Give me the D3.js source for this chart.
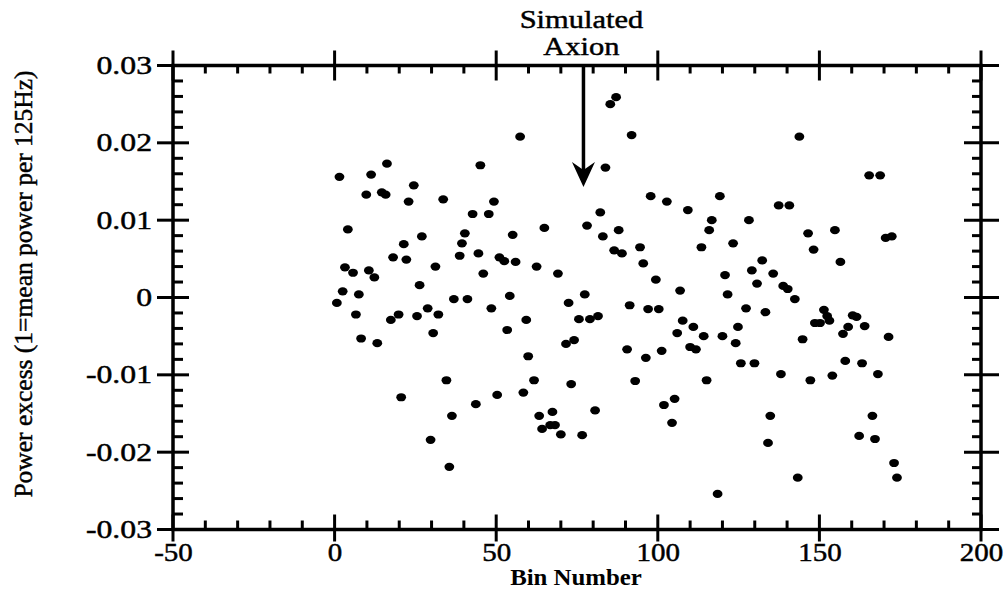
<!DOCTYPE html>
<html lang="en">
<head>
<meta charset="UTF-8">
<title>Power excess vs bin number</title>
<script src="https://cdn.jsdelivr.net/npm/d3@7"></script>
<style>
    body{ margin:0; background:#fff; }
    svg{ display:block; background:#fff; }
    .frame{ stroke:#000; stroke-width:3.5; fill:none; }
    .axis path{ display:none; }
    .axis line{ stroke:#000; stroke-width:3; }
    .dot{ fill:#000; }
</style>
</head>
<body>
<div id="root"></div>
<script>
// data: one point per bin
const binNumber = [
    0.7, 1.5, 2.5, 3.2, 4.1, 5.7, 6.6, 7.5, 8.2, 9.8,
    10.6, 11.3, 12.3, 13.2, 14.6, 15.8, 16.2, 17.4, 18.1, 19.8,
    20.6, 21.4, 22.2, 22.9, 24.5, 25.5, 26.3, 27.0, 28.8, 29.7,
    30.5, 31.2, 32.1, 33.6, 34.6, 35.5, 36.3, 36.9, 38.7, 39.4,
    40.3, 41.1, 42.7, 43.7, 44.5, 45.1, 46.0, 47.7, 48.5, 49.3,
    50.3, 51.0, 52.5, 53.4, 54.2, 55.1, 56.0, 57.4, 58.4, 59.3,
    59.9, 61.7, 62.5, 63.3, 64.2, 64.9, 66.7, 67.4, 68.2, 69.1,
    70.0, 71.6, 72.4, 73.2, 74.1, 75.6, 76.6, 77.4, 78.1, 79.0,
    80.6, 81.5, 82.2, 83.0, 83.8, 85.3, 86.5, 87.1, 87.9, 88.9,
    90.5, 91.3, 91.9, 93.0, 94.5, 95.5, 96.3, 97.0, 97.8, 99.4,
    100.3, 101.2, 101.9, 102.8, 104.4, 105.2, 106.0, 106.9, 107.7, 109.3,
    110.0, 111.0, 111.8, 113.5, 114.2, 115.1, 115.9, 116.7, 118.5, 119.2,
    120.0, 120.8, 121.6, 123.3, 124.1, 124.8, 125.7, 127.3, 128.2, 129.1,
    129.9, 130.7, 132.3, 133.3, 134.1, 134.8, 135.7, 137.4, 138.1, 138.8,
    140.2, 140.7, 142.4, 143.3, 143.8, 144.8, 146.5, 147.2, 148.2, 148.6,
    150.2, 151.4, 152.4, 153.1, 154.0, 154.8, 156.5, 157.3, 158.0, 158.9,
    160.3, 161.5, 162.3, 163.2, 164.0, 165.4, 166.4, 167.2, 168.1, 168.8,
    170.5, 171.4, 172.4, 173.1, 174.0
]
const powerExcess = [
    -0.0007, 0.0156, 0.0008, 0.0039, 0.0088, 0.0032, -0.0022, 0.0004, -0.0053, 0.0133,
    0.0035, 0.0159, 0.0026, -0.0059, 0.0136, 0.0133, 0.0173, -0.0029, 0.0052, -0.0022,
    -0.0129, 0.0069, 0.0049, 0.0124, 0.0145, -0.0024, 0.0016, 0.0079, -0.0014, -0.0184,
    -0.0046, 0.0040, -0.0022, 0.0127, -0.0107, -0.0219, -0.0153, -0.0002, 0.0054, 0.0070,
    0.0083, -0.0002, 0.0108, -0.0138, 0.0057, 0.0171, 0.0031, 0.0108, -0.0014, 0.0124,
    -0.0126, 0.0052, 0.0047, -0.0042, 0.0002, 0.0081, 0.0046, 0.0208, -0.0123, -0.0029,
    -0.0076, -0.0107, 0.0040, -0.0153, -0.0170, 0.0090, -0.0165, -0.0148, -0.0165, 0.0031,
    -0.0177, -0.0060, -0.0007, -0.0112, -0.0055, -0.0028, -0.0178, 0.0004, 0.0093, -0.0028,
    -0.0146, -0.0024, 0.0110, 0.0079, 0.0168, 0.0250, 0.0061, 0.0259, 0.0087, 0.0057,
    -0.0067, -0.0010, 0.0210, -0.0108, 0.0065, 0.0044, -0.0078, -0.0015, 0.0131, 0.0023,
    -0.0015, -0.0069, -0.0139, 0.0124, -0.0162, -0.0131, -0.0046, 0.0009, -0.0030, 0.0113,
    -0.0064, -0.0038, -0.0067, 0.0065, -0.0050, -0.0107, 0.0087, 0.0100, -0.0254, 0.0131,
    -0.0050, 0.0029, 0.0004, 0.0070, -0.0059, -0.0038, -0.0085, -0.0014, 0.0100, 0.0035,
    -0.0085, 0.0018, 0.0048, -0.0019, -0.0188, -0.0153, 0.0031, 0.0119, -0.0099, 0.0015,
    0.0011, 0.0119, -0.0002, -0.0233, 0.0208, -0.0054, 0.0083, -0.0107, 0.0062, -0.0033,
    -0.0033, -0.0016, -0.0024, -0.0030, -0.0101, 0.0087, 0.0046, -0.0047, -0.0082, -0.0038,
    -0.0023, -0.0025, -0.0179, -0.0085, -0.0037, 0.0158, -0.0153, -0.0183, -0.0099, 0.0158,
    0.0077, -0.0051, 0.0079, -0.0214, -0.0233
]
const xTicks = [-50, 0, 50, 100, 150, 200]
const yTicks = [-0.03, -0.02, -0.01, 0, 0.01, 0.02, 0.03]
const axionBin = 77          // where the simulated axion was injected
const axionArrowTip = 0.0143 // arrow stops here
const axionLabel = ["Simulated", "Axion"]
const xTitle = "Bin Number"
const yTitle = "Power excess (1=mean power per 125Hz)"

let width = 1008
let height = 595
let plotLeft = 173, plotRight = 981, plotTop = 65.5, plotBottom = 529.5
const serif = '"Liberation Serif", "Times New Roman", Times, serif'

const svg = d3.select("#root").append("svg").attr("width", width).attr("height", height)

const xScale = d3.scaleLinear().domain([-50, 200]).range([plotLeft, plotRight])
const yScale = d3.scaleLinear().domain([-0.03, 0.03]).range([plotBottom, plotTop])

const xMinor = d3.range(-50, 201, 10).filter(d => d % 50 !== 0)
const yMinor = d3.range(-30, 31, 2).filter(d => d % 10 !== 0).map(d => d / 1000)

// serif text, a little heavy like the scanned original
const font = (sel, size, weight) => {
    sel.style("font-family", serif).style("font-size", size + "px")
       .style("font-weight", weight || "normal").style("fill", "#000")
       .style("stroke", "#000").style("stroke-width", weight ? 0 : 0.45)
}

// the scan is wider than tall: squeeze/stretch text around its own anchor point
const widen = (sel, k) => {
    sel.each(function () {
        const t = d3.select(this)
        const x = +t.attr("x") || 0
        const y = +t.attr("y") || 0
        t.attr("transform", `translate(${x},${y}) scale(${k},1)`).attr("x", 0).attr("y", 0)
    })
}

const fmtY = d => d === 0 ? "0" : d.toFixed(2)

const renderFrame = () => {
    svg.append("rect").attr("class", "frame")
        .attr("x", plotLeft).attr("y", plotTop)
        .attr("width", plotRight - plotLeft).attr("height", plotBottom - plotTop)
}

const renderAxisX = () => {
    // bottom: labels
    const gb = svg.append("g").attr("class", "axis")
        .attr("transform", `translate(0,${plotBottom})`)
        .call(d3.axisBottom(xScale).tickValues(xTicks).tickSize(0).tickPadding(14).tickFormat(d => String(d)))
    gb.selectAll("text").call(font, 25).call(widen, 1.16)
    gb.append("g").selectAll("line").data(xTicks).enter().append("line")
        .attr("x1", d => xScale(d)).attr("x2", d => xScale(d)).attr("y1", -15).attr("y2", 12)
    gb.append("g").selectAll("line").data(xMinor).enter().append("line")
        .attr("x1", d => xScale(d)).attr("x2", d => xScale(d)).attr("y1", -9).attr("y2", 0)

    // top: ticks only
    const gt = svg.append("g").attr("class", "axis").attr("transform", `translate(0,${plotTop})`)
    gt.selectAll("line.major").data(xTicks).enter().append("line").attr("class", "major")
        .attr("x1", d => xScale(d)).attr("x2", d => xScale(d)).attr("y1", -15).attr("y2", 15)
    gt.selectAll("line.minor").data(xMinor).enter().append("line").attr("class", "minor")
        .attr("x1", d => xScale(d)).attr("x2", d => xScale(d)).attr("y1", 0).attr("y2", 8)

    svg.append("text")
        .attr("x", 576).attr("y", 585).attr("text-anchor", "middle")
        .text(xTitle).call(font, 23, "bold").call(widen, 1.08)
}

const renderAxisY = () => {
    const gl = svg.append("g").attr("class", "axis")
        .attr("transform", `translate(${plotLeft},0)`)
        .call(d3.axisLeft(yScale).tickValues(yTicks).tickSize(0).tickPadding(21).tickFormat(fmtY))
    gl.selectAll("text").call(font, 25).call(widen, 1.27)
    gl.append("g").selectAll("line").data(yTicks).enter().append("line")
        .attr("y1", d => yScale(d)).attr("y2", d => yScale(d)).attr("x1", -16).attr("x2", 16)
    gl.append("g").selectAll("line").data(yMinor).enter().append("line")
        .attr("y1", d => yScale(d)).attr("y2", d => yScale(d)).attr("x1", 0).attr("x2", 10)

    const gr = svg.append("g").attr("class", "axis").attr("transform", `translate(${plotRight},0)`)
    gr.selectAll("line.major").data(yTicks).enter().append("line").attr("class", "major")
        .attr("y1", d => yScale(d)).attr("y2", d => yScale(d)).attr("x1", -17).attr("x2", 18)
    gr.selectAll("line.minor").data(yMinor).enter().append("line").attr("class", "minor")
        .attr("y1", d => yScale(d)).attr("y2", d => yScale(d)).attr("x1", -9).attr("x2", 0)

    svg.append("text")
        .attr("transform", `translate(32,284) rotate(-90)`)
        .attr("text-anchor", "middle")
        .text(yTitle).call(font, 25.5)
}

const renderDots = () => {
    const pts = binNumber.map((b, i) => ({ x: b, y: powerExcess[i] }))
    svg.append("g").selectAll("ellipse")
        .data(pts).enter().append("ellipse")
        .attr("class", "dot")
        .attr("cx", d => xScale(d.x))
        .attr("cy", d => yScale(d.y))
        .attr("rx", 4.9).attr("ry", 4.1)
}

const renderAxion = () => {
    const ax = xScale(axionBin)
    const tip = yScale(axionArrowTip)
    svg.append("line")
        .attr("x1", ax).attr("x2", ax).attr("y1", plotTop).attr("y2", tip - 12)
        .attr("stroke", "#000").attr("stroke-width", 3.5)
    svg.append("path")
        .attr("d", `M${ax},${tip} L${ax - 11.5},${tip - 25} L${ax},${tip - 17} L${ax + 11.5},${tip - 25} Z`)
        .attr("fill", "#000")
    svg.append("g").selectAll("text").data(axionLabel).enter().append("text")
        .attr("x", ax - 2).attr("y", (d, i) => 28 + i * 27)
        .attr("text-anchor", "middle")
        .text(d => d)
        .call(font, 25).call(widen, 1.22)
}

renderFrame()
renderAxisX()
renderAxisY()
renderDots()
renderAxion()
</script>
</body>
</html>
